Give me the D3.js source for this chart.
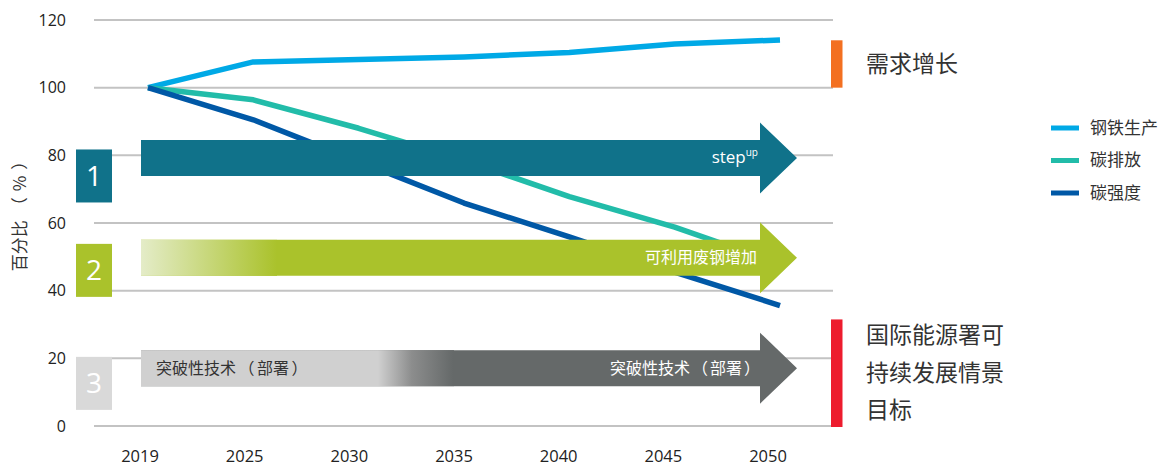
<!DOCTYPE html>
<html>
<head>
<meta charset="utf-8">
<script src="https://cdn.jsdelivr.net/npm/d3@7.9.0/dist/d3.min.js"></script>
<style>
  body { margin: 0; background: #fff; }
  text { font-family: 'Open Sans', 'Noto Sans CJK SC', sans-serif; }
  .cjk { font-family: 'Noto Sans CJK SC', 'Open Sans', sans-serif; }
</style>
</head>
<body>
<svg id="chart" width="1161" height="466"></svg>
<script>
// data
const years = ['2019', '2025', '2030', '2035', '2040', '2045', '2050'];
const yTicks = [0, 20, 40, 60, 80, 100, 120];
const steelProduction = [100, 107.6, 108.3, 109.1, 110.4, 112.9, 114.1];
const carbonEmissions = [100, 96.4, 88.0, 78.5, 67.8, 58.8, 48.0];
const carbonIntensity = [100, 90.5, 78.2, 65.9, 55.9, 45.5, 35.6];

const seriesNames = ['钢铁生产', '碳排放', '碳强度'];
const seriesColors = ['#00a9e6', '#22bca9', '#0058a6'];

// the three pathway arrows (level = centre in % units)
const arrowLevels = [79.2, 49.7, 17.1];
const arrowNumbers = ['1', '2', '3'];
const arrowNumberLevels = [73.9, 46.0, 12.6];
const arrowColors = ['#10728a', '#aac22b', '#656969'];
const boxColors = ['#10728a', '#aac22b', '#d9d9d9'];

const svg = d3.select('#chart');

const x = d3.scalePoint().domain(years).range([140, 768]);
const xLine = d3.scalePoint().domain(years).range([148, 780]);
const y = d3.scaleLinear().domain([0, 120]).range([426, 20]);

// full-width brackets render narrow here, so pad them with tspans
function bracketText(sel, str, gap) {
  const parts = str.split(/([（）])/).filter(s => s.length);
  let pad = 0;
  parts.forEach(s => {
    const isBracket = s === '（' || s === '）';
    sel.append('tspan')
      .attr('dx', isBracket ? gap : pad)
      .text(s);
    pad = isBracket ? gap : 0;
  });
}

// gradients
const defs = svg.append('defs');
const gGreen = defs.append('linearGradient')
  .attr('id', 'gradGreen').attr('gradientUnits', 'userSpaceOnUse')
  .attr('x1', 141).attr('x2', 277).attr('y1', 0).attr('y2', 0);
gGreen.append('stop').attr('offset', 0).attr('stop-color', '#e4ecc8');
gGreen.append('stop').attr('offset', 1).attr('stop-color', '#aac22b');

const gGray = defs.append('linearGradient')
  .attr('id', 'gradGray').attr('gradientUnits', 'userSpaceOnUse')
  .attr('x1', 378).attr('x2', 453).attr('y1', 0).attr('y2', 0);
gGray.append('stop').attr('offset', 0).attr('stop-color', '#d0d0d0');
gGray.append('stop').attr('offset', 0.45).attr('stop-color', '#8c8d8d');
gGray.append('stop').attr('offset', 1).attr('stop-color', '#656969');

// grid
svg.append('g')
  .selectAll('line')
  .data(yTicks)
  .join('line')
  .attr('x1', 94).attr('x2', 833)
  .attr('y1', d => y(d)).attr('y2', d => y(d))
  .attr('stroke', '#c3c3c3')
  .attr('stroke-width', 2);

// y axis labels
svg.append('g')
  .selectAll('text')
  .data(yTicks)
  .join('text')
  .attr('x', 66)
  .attr('y', d => y(d))
  .attr('dy', '0.35em')
  .attr('text-anchor', 'end')
  .attr('font-size', 16)
  .attr('fill', '#222')
  .text(d => d);

const yTitle = svg.append('text')
  .attr('class', 'cjk')
  .attr('transform', 'translate(20,212) rotate(-90)')
  .attr('text-anchor', 'middle')
  .attr('dy', '0.35em')
  .attr('font-size', 17)
  .attr('fill', '#333');
bracketText(yTitle, '百分比（%）', 6);

// x axis labels
svg.append('g')
  .selectAll('text')
  .data(years)
  .join('text')
  .attr('x', d => x(d))
  .attr('y', 462)
  .attr('text-anchor', 'middle')
  .attr('font-size', 16.5)
  .attr('fill', '#222')
  .text(d => d);

// lines
const allSeries = [steelProduction, carbonEmissions, carbonIntensity];
const line = d3.line()
  .x((d, i) => xLine(years[i]))
  .y(d => y(d));

svg.append('g')
  .selectAll('path')
  .data(allSeries)
  .join('path')
  .attr('d', d => line(d))
  .attr('fill', 'none')
  .attr('stroke', (d, i) => seriesColors[i])
  .attr('stroke-width', 5.5)
  .attr('stroke-linejoin', 'round');

// arrows
const xStart = xLine(years[0]) - 7;
const xTip = xLine(years[years.length - 1]) + 17;
const xBase = xTip - 37;

function arrowPath(yc) {
  const p = d3.path();
  p.moveTo(xStart, yc - 18);
  p.lineTo(xBase, yc - 18);
  p.lineTo(xBase, yc - 35.5);
  p.lineTo(xTip, yc);
  p.lineTo(xBase, yc + 35.5);
  p.lineTo(xBase, yc + 18);
  p.lineTo(xStart, yc + 18);
  p.closePath();
  return p.toString();
}

svg.append('g')
  .selectAll('path')
  .data(arrowLevels)
  .join('path')
  .attr('d', d => arrowPath(y(d)))
  .attr('fill', (d, i) => arrowColors[i]);

// gradient overlays on arrow bodies
svg.append('rect')
  .attr('x', xStart).attr('y', y(arrowLevels[1]) - 18)
  .attr('width', 277 - xStart).attr('height', 36)
  .attr('fill', 'url(#gradGreen)');
svg.append('rect')
  .attr('x', xStart).attr('y', y(arrowLevels[2]) - 18)
  .attr('width', 454 - xStart).attr('height', 36)
  .attr('fill', 'url(#gradGray)');

// arrow texts
const stepText = svg.append('text')
  .attr('x', 758)
  .attr('y', y(arrowLevels[0]) + 5)
  .attr('text-anchor', 'end')
  .attr('fill', '#fff')
  .attr('font-size', 17);
stepText.append('tspan').text('step');
stepText.append('tspan').attr('font-size', 10).attr('dy', -7).text('up');

svg.append('text')
  .attr('class', 'cjk')
  .attr('x', 757)
  .attr('y', y(arrowLevels[1]))
  .attr('dy', '0.35em')
  .attr('text-anchor', 'end')
  .attr('fill', '#fff')
  .attr('font-size', 16)
  .text('可利用废钢增加');

const techLeft = svg.append('text')
  .attr('class', 'cjk')
  .attr('x', 156)
  .attr('y', y(arrowLevels[2]))
  .attr('dy', '0.35em')
  .attr('fill', '#333')
  .attr('font-size', 16);
bracketText(techLeft, '突破性技术（部署）', 2.5);

const techRight = svg.append('text')
  .attr('class', 'cjk')
  .attr('x', 760)
  .attr('y', y(arrowLevels[2]))
  .attr('dy', '0.35em')
  .attr('text-anchor', 'end')
  .attr('fill', '#fff')
  .attr('font-size', 16);
bracketText(techRight, '突破性技术（部署）', 2);

// numbered boxes
const boxes = svg.append('g')
  .selectAll('g')
  .data(arrowNumbers)
  .join('g')
  .attr('transform', (d, i) => `translate(76,${y(arrowNumberLevels[i]) - 26.5})`);
boxes.append('rect')
  .attr('width', 36).attr('height', 53)
  .attr('fill', (d, i) => boxColors[i]);
boxes.append('text')
  .attr('x', 18).attr('y', 26.5)
  .attr('dy', '0.36em')
  .attr('text-anchor', 'middle')
  .attr('fill', '#fff')
  .attr('font-size', 28)
  .text(d => d);

// right-hand markers
svg.append('rect')
  .attr('x', 831).attr('y', y(114))
  .attr('width', 11.5).attr('height', y(100) - y(114))
  .attr('fill', '#f37021');
svg.append('text')
  .attr('class', 'cjk')
  .attr('x', 866).attr('y', y(107))
  .attr('dy', '0.35em')
  .attr('font-size', 23)
  .attr('fill', '#333')
  .text('需求增长');

svg.append('rect')
  .attr('x', 831).attr('y', y(31.5))
  .attr('width', 11.5).attr('height', y(0) - y(31.5) + 1)
  .attr('fill', '#ed1c2e');

const targetLines = ['国际能源署可', '持续发展情景', '目标'];
svg.append('g')
  .selectAll('text')
  .data(targetLines)
  .join('text')
  .attr('class', 'cjk')
  .attr('x', 866)
  .attr('y', (d, i) => 335 + i * 37.5)
  .attr('dy', '0.35em')
  .attr('font-size', 23)
  .attr('fill', '#333')
  .text(d => d);

// legend
const legend = svg.append('g')
  .selectAll('g')
  .data(seriesNames)
  .join('g')
  .attr('transform', (d, i) => `translate(1051,${128 + i * 32.5})`);
legend.append('line')
  .attr('x1', 0).attr('x2', 28)
  .attr('stroke', (d, i) => seriesColors[i])
  .attr('stroke-width', 5);
legend.append('text')
  .attr('class', 'cjk')
  .attr('x', 39)
  .attr('dy', '0.35em')
  .attr('font-size', 17)
  .attr('fill', '#333')
  .text(d => d);
</script>
</body>
</html>
